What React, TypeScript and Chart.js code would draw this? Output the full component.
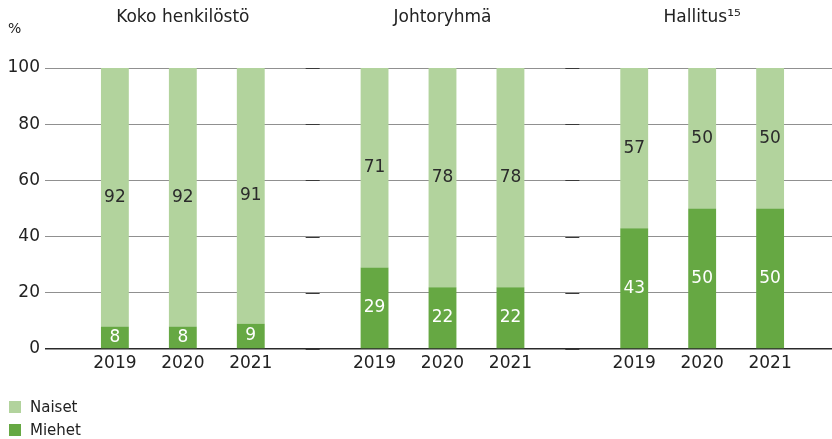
import React, { useEffect, useRef } from 'react';
import { Chart, registerables } from 'chart.js';

Chart.register(...registerables);

const groups = ['Koko henkilöstö', 'Johtoryhmä', 'Hallitus¹⁵'];
const years = ['2019', '2020', '2021'];
const miehet2019 = [8, 29, 43];
const miehet2020 = [8, 22, 50];
const miehet2021 = [9, 22, 50];
const naiset2019 = [92, 71, 57];
const naiset2020 = [92, 78, 50];
const naiset2021 = [91, 78, 50];
const yTicks = [0, 20, 40, 60, 80, 100];
const seriesNames = ['Naiset', 'Miehet'];

const COLOR_NAISET = '#b2d39d';
const COLOR_MIEHET = '#66a843';
const TEXT = '#222222';
const FONT = '"DejaVu Sans", Inter, sans-serif';

const miehetByYear = [miehet2019, miehet2020, miehet2021];
const naisetByYear = [naiset2019, naiset2020, naiset2021];

const decorPlugin = {
  id: 'decor',
  beforeDatasetsDraw(chart: any) {
    const { ctx, chartArea } = chart;
    const x = chart.scales.x;
    const y = chart.scales.y;
    ctx.save();
    ctx.strokeStyle = '#3a3a3a';
    ctx.lineWidth = 1;
    for (let i = 1; i < groups.length; i++) {
      const bx = (x.getPixelForValue(i - 1) + x.getPixelForValue(i)) / 2;
      yTicks.forEach((v) => {
        const py = Math.round(y.getPixelForValue(v)) + 0.5;
        ctx.beginPath();
        ctx.moveTo(bx - 7, py);
        ctx.lineTo(bx + 7, py);
        ctx.stroke();
      });
    }
    ctx.fillStyle = TEXT;
    ctx.font = `14px ${FONT}`;
    ctx.textAlign = 'left';
    ctx.textBaseline = 'middle';
    ctx.fillText('%', y.left + 8, chartArea.top - 39);
    ctx.restore();
  },
  afterDatasetsDraw(chart: any) {
    const { ctx, chartArea } = chart;
    ctx.save();
    ctx.textAlign = 'center';
    ctx.textBaseline = 'middle';
    chart.data.datasets.forEach((ds: any, di: number) => {
      const meta = chart.getDatasetMeta(di);
      meta.data.forEach((el: any, i: number) => {
        const v = ds.data[i];
        ctx.font = `17px ${FONT}`;
        ctx.fillStyle = ds.label === 'Miehet' ? '#ffffff' : '#2b2b2b';
        ctx.fillText(String(v), el.x, (el.y + el.base) / 2);
        if (ds.label === 'Miehet') {
          ctx.fillStyle = TEXT;
          ctx.fillText(ds.stack, el.x, chartArea.bottom + 15);
        }
      });
    });
    ctx.restore();
  },
};

export default function App() {
  const ref = useRef<HTMLCanvasElement | null>(null);

  useEffect(() => {
    document.body.style.margin = '0';
    if (!ref.current) return;
    const datasets: any[] = [];
    years.forEach((yr, k) => {
      datasets.push({
        label: 'Miehet',
        stack: yr,
        data: miehetByYear[k],
        backgroundColor: COLOR_MIEHET,
        borderWidth: 0,
      });
      datasets.push({
        label: 'Naiset',
        stack: yr,
        data: naisetByYear[k],
        backgroundColor: COLOR_NAISET,
        borderWidth: 0,
      });
    });

    const chart = new Chart(ref.current, {
      type: 'bar',
      data: { labels: groups, datasets },
      options: {
        responsive: false,
        animation: false,
        layout: { padding: 0 },
        datasets: { bar: { categoryPercentage: 0.785, barPercentage: 0.41 } },
        plugins: { legend: { display: false }, tooltip: { enabled: false } },
        scales: {
          x: {
            type: 'category',
            stacked: true,
            grid: { display: false },
            border: { display: false },
            ticks: { display: false },
            afterFit: (s: any) => {
              s.height = 90;
            },
          },
          x2: {
            type: 'category',
            labels: groups,
            position: 'top',
            offset: true,
            grid: { display: false, drawTicks: false },
            border: { display: false },
            ticks: { padding: 40, color: TEXT, font: { family: FONT, size: 17 } },
            afterFit: (s: any) => {
              s.height = 68;
            },
          },
          y: {
            stacked: true,
            min: 0,
            max: 100,
            afterBuildTicks: (s: any) => {
              s.ticks = yTicks.map((v) => ({ value: v }));
            },
            grid: {
              display: true,
              drawOnChartArea: true,
              color: yTicks.map((v) => (v === 0 ? '#2a2a2a' : '#909090')),
              lineWidth: yTicks.map((v) => (v === 0 ? 1.5 : 1)),
              tickLength: 8,
            },
            border: { display: false },
            ticks: { padding: 5, color: TEXT, font: { family: FONT, size: 17 } },
            afterFit: (s: any) => {
              s.width = 53;
            },
          },
        },
      } as any,
      plugins: [decorPlugin],
    });
    return () => chart.destroy();
  }, []);

  const legendColors = [COLOR_NAISET, COLOR_MIEHET];

  return (
    <div style={{ position: 'relative', width: 832, height: 439 }}>
      <canvas ref={ref} width={832} height={439} style={{ display: 'block' }} />
      <div style={{ position: 'absolute', left: 9, top: 395, fontFamily: FONT, fontSize: 15, color: TEXT }}>
        {seriesNames.map((n, i) => (
          <div key={n} style={{ display: 'flex', alignItems: 'center', height: 23 }}>
            <span style={{ display: 'inline-block', width: 12, height: 12, background: legendColors[i], marginRight: 9 }} />
            <span>{n}</span>
          </div>
        ))}
      </div>
    </div>
  );
}
